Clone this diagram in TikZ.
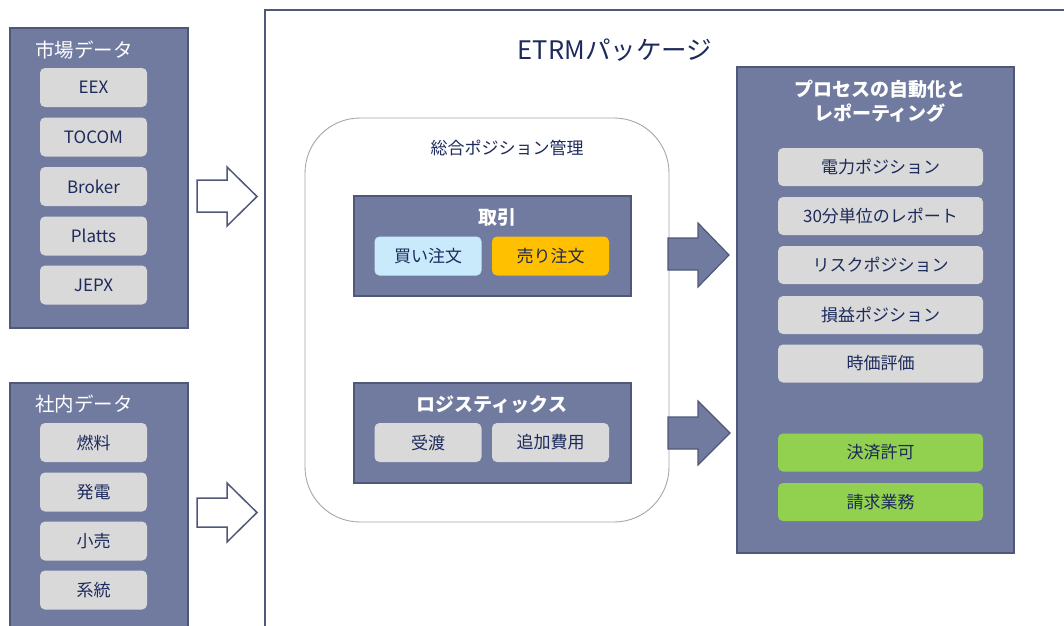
\documentclass[tikz,border=0pt]{standalone}
\usepackage{fontspec}
\setmainfont{Noto Sans CJK JP}
\newfontfamily\jp{Noto Sans CJK JP}
\definecolor{panelfill}{HTML}{717BA0}
\definecolor{panelline}{HTML}{4F5878}
\definecolor{itemgray}{HTML}{D9D9D9}
\definecolor{navy}{HTML}{1C2A5C}
\definecolor{buyblue}{HTML}{C9EAFB}
\definecolor{sellorange}{HTML}{FFC000}
\definecolor{okgreen}{HTML}{92D050}
\definecolor{roundline}{HTML}{A6A6A6}
\tikzset{
  panel/.style={draw=panelline, line width=1.5pt, fill=panelfill, inner sep=0pt},
  paneltitle/.style={text=white, font=\jp\fontsize{19.5}{22}\selectfont, inner sep=0pt},
  boldtitle/.style={text=white, font=\jp\bfseries\fontsize{19}{24}\selectfont, inner sep=0pt, align=center},
  item/.style={fill=itemgray, rounded corners=5pt, minimum width=107pt, minimum height=39pt,
    text=navy, font=\jp\fontsize{17}{20}\selectfont, inner sep=0pt},
  wideitem/.style={item, minimum width=117pt},
  repitem/.style={item, minimum width=205pt, minimum height=38pt},
  hollowarrow/.style={draw=panelline, line width=1.5pt, fill=white, line join=miter},
  solidarrow/.style={draw=panelline, line width=1.2pt, fill=panelfill, line join=miter},
}
\begin{document}
\begin{tikzpicture}[x=1pt, y=-1pt]
\useasboundingbox (0,0) rectangle (1064,625);
\clip (0,0) rectangle (1064,625);
\fill[white] (0,0) rectangle (1064,625);

% package frame, open to the right and bottom
\draw[panelline, line width=2pt] (265,640) -- (265,10) -- (1070,10);
\node[text=navy, font=\jp\fontsize{25.5}{30}\selectfont, inner sep=0pt] (etrm) at (615,50) {ETRMパッケージ};

% market data
\node[panel, minimum width=178pt, minimum height=300pt] (market) at (99,178) {};
\node[paneltitle] (markettitle) at (84,50) {市場データ};
\node[item] (eex) at (93.5,87.5) {EEX};
\node[item] (tocom) at (93.5,137) {TOCOM};
\node[item] (broker) at (93.5,186.5) {Broker};
\node[item] (platts) at (93.5,236) {Platts};
\node[item] (jepx) at (93.5,285) {JEPX};

% internal data
\node[panel, minimum width=178pt, minimum height=260pt] (internal) at (99,513) {};
\node[paneltitle] (internaltitle) at (84,404) {社内データ};
\node[item] (fuel) at (93.5,442.5) {燃料};
\node[item] (gen) at (93.5,492) {発電};
\node[item] (retail) at (93.5,541) {小売};
\node[item] (grid) at (93.5,590) {系統};

% inbound arrows
\draw[hollowarrow] (197,180) -- (227,180) -- (227,167) -- (257,196.5) -- (227,226) -- (227,212) -- (197,212) -- cycle;
\draw[hollowarrow] (197,498) -- (227,498) -- (227,483) -- (257,512.5) -- (227,542) -- (227,527) -- (197,527) -- cycle;

% integrated position management
\draw[roundline, line width=0.9pt, rounded corners=55pt] (305,118) rectangle (669,522);
\node[text=navy, font=\jp\fontsize{17}{20}\selectfont, inner sep=0pt] (postitle) at (507,148) {総合ポジション管理};

\node[panel, minimum width=277pt, minimum height=100pt] (trade) at (492.5,246) {};
\node[boldtitle] (tradetitle) at (497,217) {取引};
\node[item, fill=buyblue] (buy) at (428,256) {買い注文};
\node[wideitem, fill=sellorange] (sell) at (550.5,256) {売り注文};

\node[panel, minimum width=277pt, minimum height=100pt] (logi) at (492.5,433) {};
\node[boldtitle] (logititle) at (492,404) {ロジスティックス};
\node[item] (delivery) at (428,442.5) {受渡};
\node[wideitem] (extra) at (550.5,442.5) {追加費用};

% outbound arrows
\draw[solidarrow] (668,238) -- (698,238) -- (698,223) -- (729,255) -- (698,287) -- (698,270) -- (668,270) -- cycle;
\draw[solidarrow] (668,417) -- (698,417) -- (698,401) -- (730,433) -- (698,465) -- (698,449) -- (668,449) -- cycle;

% automation and reporting
\node[panel, minimum width=277pt, minimum height=486pt] (report) at (875.5,310) {};
\node[boldtitle] (reporttitle) at (880,101) {プロセスの自動化と\\レポーティング};
\node[repitem] (power) at (880.5,167) {電力ポジション};
\node[repitem] (half) at (880.5,216) {30分単位のレポート};
\node[repitem] (risk) at (880.5,265) {リスクポジション};
\node[repitem] (pl) at (880.5,315) {損益ポジション};
\node[repitem] (mtm) at (880.5,363.5) {時価評価};
\node[repitem, fill=okgreen] (settle) at (880.5,452.5) {決済許可};
\node[repitem, fill=okgreen] (invoice) at (880.5,502) {請求業務};
\end{tikzpicture}
\end{document}
